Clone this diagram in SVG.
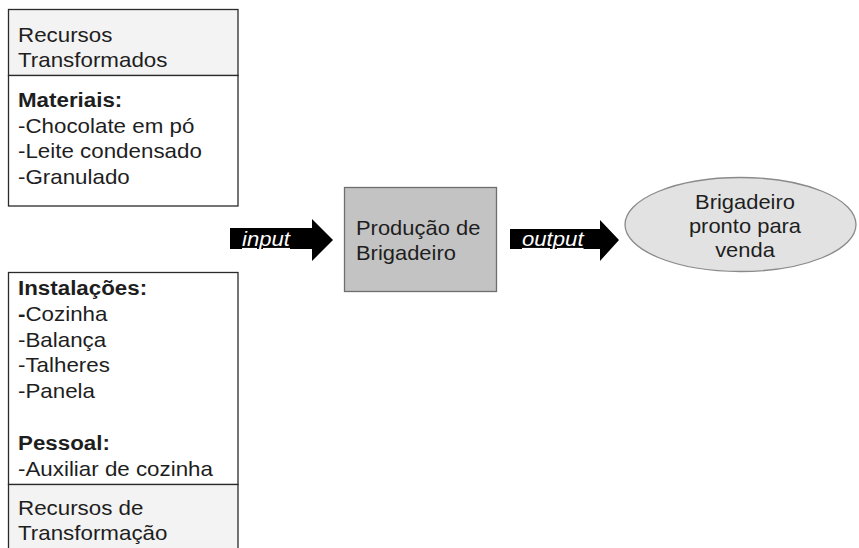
<svg xmlns="http://www.w3.org/2000/svg" width="859" height="548" viewBox="0 0 859 548">
<style>
.t{font-family:"Liberation Sans",Arial,sans-serif;font-size:20.5px;fill:#1e1e1e}
.b{font-weight:bold}
.box{fill:#fff;stroke:#2a2a2a;stroke-width:1.3}
.hdr{fill:#f3f3f3;stroke:#2a2a2a;stroke-width:1.3}
.arrow{fill:#000}
.lbl{font-family:"Liberation Sans",Arial,sans-serif;font-size:20.5px;font-style:italic;fill:#fff;text-decoration:underline}
</style>
<rect width="859" height="548" fill="#fff"/>
<g id="recursos-transformados">
<rect class="hdr" x="8.5" y="9.5" width="229.5" height="66"/>
<rect class="box" x="8.5" y="75.5" width="229.5" height="130.5"/>
<text class="t" transform="translate(18,0) scale(1.09,1)"><tspan x="0" y="42">Recursos</tspan><tspan x="0" y="67">Transformados</tspan><tspan x="0" y="107" class="b">Materiais:</tspan><tspan x="0" y="133">-Chocolate em pó</tspan><tspan x="0" y="158">-Leite condensado</tspan><tspan x="0" y="184">-Granulado</tspan></text>
</g>
<g id="recursos-transformacao">
<rect class="box" x="8.5" y="272.5" width="229.5" height="212"/>
<rect class="hdr" x="8.5" y="484.5" width="229.5" height="80"/>
<text class="t" transform="translate(18,0) scale(1.09,1)"><tspan x="0" y="295" class="b">Instalações:</tspan><tspan x="0" y="321"><tspan class="b">-</tspan>Cozinha</tspan><tspan x="0" y="347">-Balança</tspan><tspan x="0" y="372">-Talheres</tspan><tspan x="0" y="398">-Panela</tspan><tspan x="0" y="450" class="b">Pessoal:</tspan><tspan x="0" y="476">-Auxiliar de cozinha</tspan><tspan x="0" y="515">Recursos de</tspan><tspan x="0" y="540">Transformação</tspan></text>
</g>
<g id="producao">
<rect x="344.5" y="187.5" width="152" height="104" fill="#c3c3c3" stroke="#6e6e6e" stroke-width="1.3"/>
<text class="t" transform="translate(356,0) scale(1.07,1)"><tspan x="0" y="235">Produção de</tspan><tspan x="0" y="260">Brigadeiro</tspan></text>
</g>
<g id="brigadeiro-pronto">
<ellipse cx="740.5" cy="224.5" rx="115.5" ry="47" fill="#e2e2e2" stroke="#8a8a8a" stroke-width="1.3"/>
<text class="t" text-anchor="middle" transform="translate(745,0) scale(1.07,1)"><tspan x="0" y="209">Brigadeiro</tspan><tspan x="0" y="233">pronto para</tspan><tspan x="0" y="257">venda</tspan></text>
</g>
<g id="connectors">
<g id="input">
<polygon class="arrow" points="230,228 312,228 312,219 333,240 312,261 312,249 230,249"/>
<text class="lbl" transform="translate(242,0) scale(1.08,1)" x="0" y="246">input</text>
</g>
<g id="output">
<polygon class="arrow" points="510,229 600,229 600,220 619,240 600,261 600,249 510,249"/>
<text class="lbl" transform="translate(522,0) scale(1.08,1)" x="0" y="246">output</text>
</g>
</g>
</svg>
